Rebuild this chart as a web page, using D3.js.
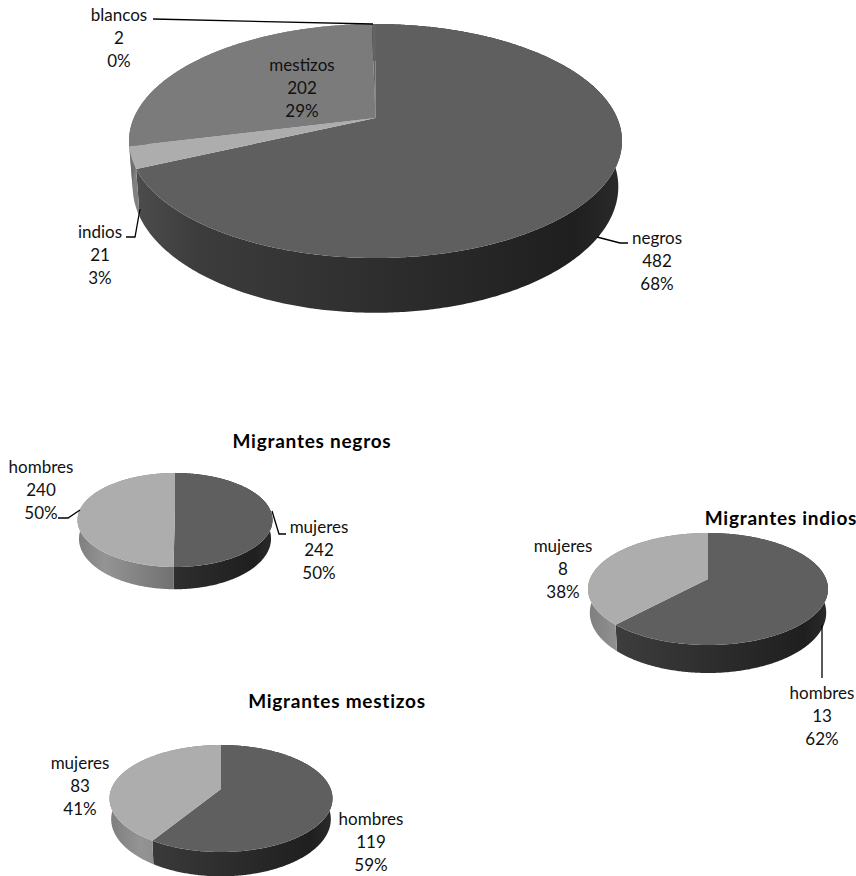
<!DOCTYPE html>
<html lang="es">
<head>
<meta charset="utf-8">
<title>Migrantes</title>
<script src="https://cdn.jsdelivr.net/npm/d3@7"></script>
<style>
  html, body { margin: 0; background: #fff; }
  svg { display: block; }
  text { font-family: Lato, "Open Sans", sans-serif; font-size: 17px; fill: #111; text-anchor: middle; }
  .title { font-weight: 700; font-size: 19px; letter-spacing: 0.75px; fill: #000; }
  .leader { fill: none; stroke: #000; stroke-width: 1.3; }
</style>
</head>
<body>
<script>
// Totals by group
const totalCategories = ["negros", "indios", "mestizos", "blancos"];
const totalValues = [482, 21, 202, 2];

// Breakdown by sex within each migrant group
const negrosCategories = ["mujeres", "hombres"];
const negrosValues = [242, 240];
const indiosCategories = ["hombres", "mujeres"];
const indiosValues = [13, 8];
const mestizosCategories = ["hombres", "mujeres"];
const mestizosValues = [119, 83];

const TOP_DARK = "#5f5f5f", TOP_MID = "#7b7b7b", TOP_LIGHT = "#adadad";

// Disc geometry: centre on screen, far/near rim of the top face, widest half-width, wall height
const pies = [
  { id: "total", categories: totalCategories, values: totalValues,
    cx: 375.5, apex: 118, far: 24, near: 258, halfWidth: 246.5, depth: 44,
    faces: [TOP_DARK, TOP_LIGHT, TOP_MID, "#646464"],
    walls: ["dark", "light", "mid", "dark"],
    labels: [
      { x: 657, y: [238, 261, 284] },
      { x: 100, y: [232, 255, 278] },
      { x: 302, y: [65, 88, 111] },
      { x: 119, y: [15, 38, 61] }
    ],
    leaders: [
      [[597, 237], [620, 243], [628, 243]],
      [[140, 209], [135, 237], [126, 237]],
      [[373, 24], [153, 19]]
    ] },
  { id: "negros", title: "Migrantes negros", titleX: 312, titleY: 441,
    categories: negrosCategories, values: negrosValues,
    cx: 175, apex: 511, far: 473, near: 567, halfWidth: 97.5, depth: 18,
    faces: [TOP_DARK, TOP_LIGHT], walls: ["dark", "light"],
    labels: [
      { x: 319, y: [527, 550, 573] },
      { x: 41, y: [467, 490, 513] }
    ],
    leaders: [
      [[272, 511], [279, 534], [286, 534]],
      [[80, 510], [68, 518], [58, 518]]
    ] },
  { id: "indios", title: "Migrantes indios", titleX: 781, titleY: 518,
    categories: indiosCategories, values: indiosValues,
    cx: 708, apex: 579, far: 533, near: 645, halfWidth: 120, depth: 23,
    faces: [TOP_DARK, TOP_LIGHT], walls: ["dark", "light"],
    labels: [
      { x: 822, y: [693, 716, 739] },
      { x: 563, y: [546, 569, 592] }
    ],
    leaders: [
      [[822, 625], [822, 678]]
    ] },
  { id: "mestizos", title: "Migrantes mestizos", titleX: 337, titleY: 701,
    categories: mestizosCategories, values: mestizosValues,
    cx: 221, apex: 789, far: 745, near: 852, halfWidth: 111.5, depth: 20,
    faces: [TOP_DARK, TOP_LIGHT], walls: ["dark", "light"],
    labels: [
      { x: 371, y: [819, 842, 865] },
      { x: 80, y: [763, 786, 809] }
    ],
    leaders: [] }
];

const wallStops = {
  dark: ["#4e4e4e", "#3c3c3c", "#2e2e2e", "#1f1f1f", "#2a2a2a"],
  light: ["#7e7e7e", "#949494", "#707070", "#707070", "#707070"],
  mid: ["#6e6e6e", "#6e6e6e", "#6e6e6e", "#6e6e6e", "#6e6e6e"]
};
const wallOffsets = [0, 0.14, 0.5, 0.9, 1];

// The base disc sits further from the viewer, so it draws slightly narrower
const BASE_SHRINK = 0.985;

const svg = d3.select("body").append("svg").attr("width", 856).attr("height", 876);
const defs = svg.append("defs");
const pieLayout = d3.pie().sort(null).startAngle(0).endAngle(2 * Math.PI);
const percent = d3.format(".0%");
const lineGen = d3.line();

// A circle seen in perspective: the far half is compressed relative to the near half
function projector(p) {
  const up = p.apex - p.far, down = p.near - p.apex;
  const c = (up - down) / (up + down);
  const k = down * (1 + c);
  const K = p.halfWidth * Math.sqrt(1 - c * c);
  return {
    rim(a) {
      const u = Math.sin(a), v = -Math.cos(a), w = 1 + c * v;
      return [p.cx + K * u / w, p.apex + k * v / w];
    },
    base(a) {
      const u = Math.sin(a), v = -Math.cos(a), w = 1 + c * v;
      return [p.cx + BASE_SHRINK * K * u / w, p.apex + (k * v + p.depth) / w];
    }
  };
}

function sweep(a0, a1) {
  const n = Math.max(2, Math.ceil((a1 - a0) / 0.01));
  return d3.range(n + 1).map(i => a0 + (a1 - a0) * i / n);
}

pies.forEach(p => {
  const proj = projector(p);
  const arcs = pieLayout(p.values);
  const total = d3.sum(p.values);
  const g = svg.append("g").attr("class", "pie-" + p.id);

  // Side wall shading runs left to right across the disc
  const gradientX = d3.scaleLinear().domain([0, 1]).range([p.cx - p.halfWidth, p.cx + p.halfWidth]);
  Object.entries(wallStops).forEach(([name, stops]) => {
    const grad = defs.append("linearGradient")
      .attr("id", `wall-${p.id}-${name}`)
      .attr("gradientUnits", "userSpaceOnUse")
      .attr("x1", gradientX(0)).attr("x2", gradientX(1)).attr("y1", 0).attr("y2", 0);
    grad.selectAll("stop").data(stops).join("stop")
      .attr("offset", (d, i) => wallOffsets[i])
      .attr("stop-color", d => d);
  });

  // Walls first, then the top faces over them
  g.selectAll("path.wall").data(arcs).join("path")
    .attr("class", "wall")
    .attr("fill", (d, i) => `url(#wall-${p.id}-${p.walls[i]})`)
    .attr("d", d => {
      const angles = sweep(d.startAngle, d.endAngle);
      return lineGen([...angles.map(proj.rim), ...angles.slice().reverse().map(proj.base)]) + "Z";
    });

  g.selectAll("path.face").data(arcs).join("path")
    .attr("class", "face")
    .attr("fill", (d, i) => p.faces[i])
    .attr("d", d => lineGen([[p.cx, p.apex], ...sweep(d.startAngle, d.endAngle).map(proj.rim)]) + "Z");

  g.selectAll("path.leader").data(p.leaders).join("path")
    .attr("class", "leader")
    .attr("d", d => lineGen(d));

  // Three-line labels: category, count, share
  p.labels.forEach((l, i) => {
    const lines = [p.categories[i], p.values[i], percent(p.values[i] / total)];
    g.append("g").selectAll("text").data(lines).join("text")
      .attr("x", l.x)
      .attr("y", (d, j) => l.y[j])
      .attr("dy", "0.35em")
      .text(d => d);
  });

  if (p.title) {
    g.append("text").attr("class", "title")
      .attr("x", p.titleX).attr("y", p.titleY).attr("dy", "0.35em")
      .text(p.title);
  }
});
</script>
</body>
</html>
